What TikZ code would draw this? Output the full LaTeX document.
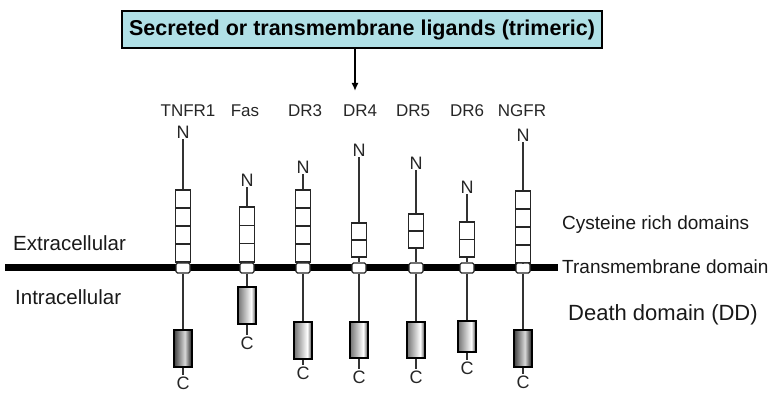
\documentclass[tikz,border=0pt]{standalone}
\usepackage{fontspec}
\setmainfont{Liberation Sans}
\usetikzlibrary{arrows.meta,calc}
\definecolor{titleblue}{RGB}{176,224,230}
\pgfdeclarehorizontalshading{ddlight}{100bp}{color(0bp)=(black!55); color(25bp)=(black!55); color(62bp)=(white); color(75bp)=(black!75); color(100bp)=(black!75)}
\pgfdeclarehorizontalshading{dddark}{100bp}{color(0bp)=(black!75); color(25bp)=(black!75); color(55bp)=(black!15); color(75bp)=(black!90); color(100bp)=(black!90)}
\begin{document}
\begin{tikzpicture}[x=1pt,y=-1pt,
  lbl/.style={font=\fontsize{17}{17}\selectfont, text=black!85, inner sep=0pt},
  term/.style={font=\fontsize{18}{18}\selectfont, text=black!85, inner sep=1pt},
  side/.style={anchor=west, text=black!90, inner sep=0pt},
  cys/.style={draw=black!85, line width=1.4pt, fill=white, minimum width=15pt, inner sep=0pt},
  tm/.style={draw=black!85, line width=1.2pt, fill=white, minimum width=14pt, minimum height=10pt, rounded corners=1.5pt, inner sep=0pt},
  dd/.style={draw=black, line width=1.8pt, minimum width=18pt, inner sep=0pt},
  stem/.style={line width=1.4pt, draw=black!80},
  divider/.style={line width=1.4pt, draw=black!85}]
\useasboundingbox (0,0) rectangle (776,403);

% title and arrow
\node[draw, line width=1.2pt, fill=titleblue, minimum width=480pt, minimum height=37pt, inner sep=0pt,
      font=\bfseries\fontsize{21.5}{21.5}\selectfont] (title) at (362,29.5) {Secreted or transmembrane ligands (trimeric)};
\coordinate (arrowend) at (355,91);
\draw[line width=1.8pt, -{Latex[length=8pt,width=7pt]}] (title.south -| arrowend) -- (arrowend);

% membrane
\coordinate (memL) at (5,268);
\coordinate (memR) at (558,268);
\draw[line width=7pt] (memL) -- (memR);

% side labels
\node[side, font=\fontsize{20.5}{20.5}\selectfont] (extra) at (13,243) {Extracellular};
\node[side, font=\fontsize{20.5}{20.5}\selectfont] (intra) at (15,297) {Intracellular};
\node[side, font=\fontsize{19}{19}\selectfont] (cyslbl) at (562,225) {Cysteine rich domains};
\node[side, font=\fontsize{19}{19}\selectfont] (tmlbl) at (562,267) {Transmembrane domain};
\node[side, font=\fontsize{22}{22}\selectfont] (ddlbl) at (568,315) {Death domain (DD)};

% receptors
\foreach \rn/\hx/\rx/\ry/\rt/\rs/\rb/\rdt/\rdb/\rc/\rsh in {
  TNFRone/188/183/132/190/4/262/330/367/383/dddark,
  Fas/245/247/180/207/3/262/287/324/343/ddlight,
  DRthree/305/303/167/190/4/262/322/359/373/ddlight,
  DRfour/360/359/150/223/2/257/322/358/377/ddlight,
  DRfive/413/416/163/214/2/248/322/358/377/ddlight,
  DRsix/467/467/187/222/2/257/321/352/368/ddlight,
  NGFR/522/523/135/191/4/263/330/367/382/dddark}{
  \pgfmathsetmacro\cm{(\rt+\rb)/2}
  \pgfmathsetmacro\ch{\rb-\rt}
  \pgfmathsetmacro\dm{(\rdt+\rdb)/2}
  \pgfmathsetmacro\dh{\rdb-\rdt}
  \node[term] (N\rn) at (\rx,\ry) {N};
  \node[cys, minimum height=\ch pt] (cys\rn) at (\rx,\cm) {};
  \pgfmathtruncatemacro\last{\rs-1}
  \foreach \k in {1,...,\last}{
    \pgfmathsetmacro\yy{\rt+\k*(\rb-\rt)/\rs}
    \draw[divider] (\rx-7.5,\yy) -- (\rx+7.5,\yy);
  }
  \node[tm] (tm\rn) at (\rx,268) {};
  \node[dd, shading=\rsh, minimum height=\dh pt] (dd\rn) at (\rx,\dm) {};
  \node[term] (C\rn) at (\rx,\rc) {C};
  \draw[stem] (N\rn) -- (cys\rn);
  \draw[stem] (cys\rn) -- (tm\rn);
  \draw[stem] (tm\rn) -- (dd\rn);
  \draw[stem] (dd\rn) -- (C\rn);
}

% header labels
\node[lbl] (hTNFR) at (188,111) {TNFR1};
\node[lbl] (hFas) at (245,111) {Fas};
\node[lbl] (hDRthree) at (305,111) {DR3};
\node[lbl] (hDRfour) at (360,111) {DR4};
\node[lbl] (hDRfive) at (413,111) {DR5};
\node[lbl] (hDRsix) at (467,111) {DR6};
\node[lbl] (hNGFR) at (522,111) {NGFR};
\end{tikzpicture}
\end{document}
